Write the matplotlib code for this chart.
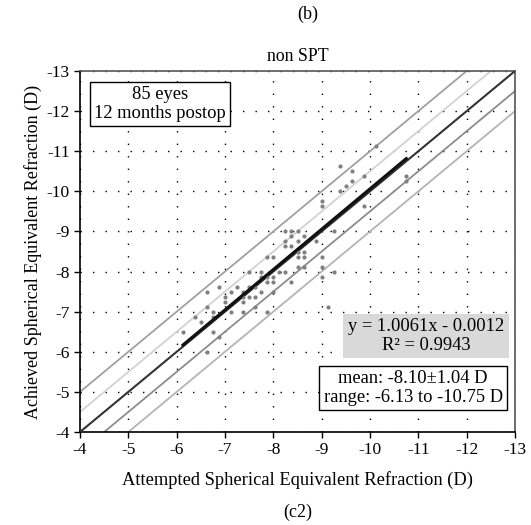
import matplotlib
matplotlib.use('Agg')
import matplotlib.pyplot as plt
import numpy as np

plt.rcParams['font.family'] = ['Liberation Serif', 'DejaVu Serif']

# attempted (x) vs achieved (y) spherical equivalent, D
attempted = [-6.125, -6.375, -6.5, -6.625, -6.625, -6.625, -6.75, -6.75, -6.75, -6.875,
             -6.875, -7.0, -7.0, -7.125, -7.125, -7.25, -7.375, -7.375, -7.375, -7.375,
             -7.5, -7.5, -7.5, -7.625, -7.625, -7.75, -7.75, -7.75, -7.875, -7.875,
             -7.875, -8.0, -8.0, -8.0, -8.0, -8.125, -8.25, -8.375, -8.5, -8.625,
             -7.875, -7.625,
             -8.25, -8.375, -8.5, -8.375, -8.625, -8.25, -8.5, -8.875, -8.25, -8.375,
             -8.5, -8.625, -8.5, -8.625, -9.0, -9.0, -9.25, -9.125, -9.0, -9.25,
             -9.0, -9.0, -9.875, -9.375, -9.5, -9.625, -9.375, -9.625, -9.875, -10.125,
             -10.75, -10.75]
achieved = [-6.5, -6.875, -6.75, -7.5, -7.125, -6.0, -7.0, -6.875, -6.5, -6.375,
            -7.625, -7.375, -7.25, -7.5, -7.0, -7.625, -7.5, -7.375, -7.25, -7.0,
            -8.0, -7.625, -7.375, -7.375, -7.125, -8.0, -7.875, -7.5, -8.375, -7.75,
            -7.0, -8.375, -7.875, -7.75, -7.5, -8.0, -8.0, -7.75, -8.125, -8.125,
            -7.875, -7.625,
            -9.0, -9.0, -9.0, -8.875, -8.875, -8.75, -8.75, -8.75, -8.625, -8.625,
            -8.5, -8.5, -8.375, -8.375, -8.375, -8.125, -8.0, -7.125, -7.875, -9.0,
            -9.75, -9.625, -9.625, -10.0, -10.125, -10.25, -10.625, -10.5, -10.375, -11.125,
            -10.375, -10.25]

slope, intercept = 1.0061, -0.0012
fit_range = [-6.13, -10.75]
ticks = list(range(-4, -14, -1))

fig = plt.figure(figsize=(5.31, 5.25), dpi=100)
ax = fig.add_axes([80/531, 1-432/525, 435/531, 361/525])

lims = np.array([-4, -13])
# reference lines: +/-1 D and +/-0.5 D around y = x
ax.plot(lims, lims - 1, color='#a0a0a0', lw=1.3, zorder=2)
ax.plot(lims, lims - 0.5, color='#d2d2d2', lw=1.3, zorder=2)
ax.plot(lims, lims + 0.5, color='#8c8c8c', lw=1.3, zorder=2)
ax.plot(lims, lims + 1, color='#b4b4b4', lw=1.3, zorder=2)
ax.plot(lims, lims, color='#333333', lw=1.5, zorder=3)

ax.scatter(attempted, achieved, s=9, color='#808080', zorder=4, linewidths=0)

fx = np.array(fit_range)
ax.plot(fx, slope*fx + intercept, color='#111111', lw=2.2, zorder=5)

ax.set_xlim(-4, -13)
ax.set_ylim(-4, -13)
ax.set_xticks(ticks)
ax.set_yticks(ticks)
ax.set_xticklabels([str(t) for t in ticks])
ax.set_yticklabels([str(t) for t in ticks])
ax.tick_params(direction='out', length=4, width=1, labelsize=12.5, colors='black')
ax.grid(True, color='black', linestyle=(0, (1, 8)), lw=1)
for s in ax.spines.values():
    s.set_linewidth(1.2)
    s.set_color('black')
ax.spines['top'].set_color('#555555')
ax.spines['right'].set_color('#555555')

ax.set_xlabel('Attempted Spherical Equivalent Refraction (D)', fontsize=13.3, labelpad=9)
ax.set_ylabel('Achieved Spherical Equivalent Refraction (D)', fontsize=13, labelpad=3)
ax.set_title('non SPT', fontsize=12.8, pad=7)

fig.text(308/531, 1-14/525, '(b)', ha='center', va='center', fontsize=13)
fig.text(298/531, 1-512/525, '(c2)', ha='center', va='center', fontsize=13)

ax.text(0.184, 0.909, '85 eyes\n12 months postop', transform=ax.transAxes, ha='center',
        va='center', fontsize=13.3, linespacing=1.1, zorder=6,
        bbox=dict(boxstyle='square,pad=0.22', fc='white', ec='black', lw=1))
ax.text(0.795, 0.266, 'y = 1.0061x - 0.0012\nR² = 0.9943', transform=ax.transAxes,
        ha='center', va='center', fontsize=13.3, linespacing=1.1, zorder=6,
        bbox=dict(boxstyle='square,pad=0.25', fc='#d9d9d9', ec='none'))
ax.text(0.766, 0.122, 'mean: -8.10±1.04 D\nrange: -6.13 to -10.75 D', transform=ax.transAxes,
        ha='center', va='center', fontsize=13.3, linespacing=1.1, zorder=6,
        bbox=dict(boxstyle='square,pad=0.25', fc='white', ec='black', lw=1))

fig.savefig('out.png', dpi=100)
